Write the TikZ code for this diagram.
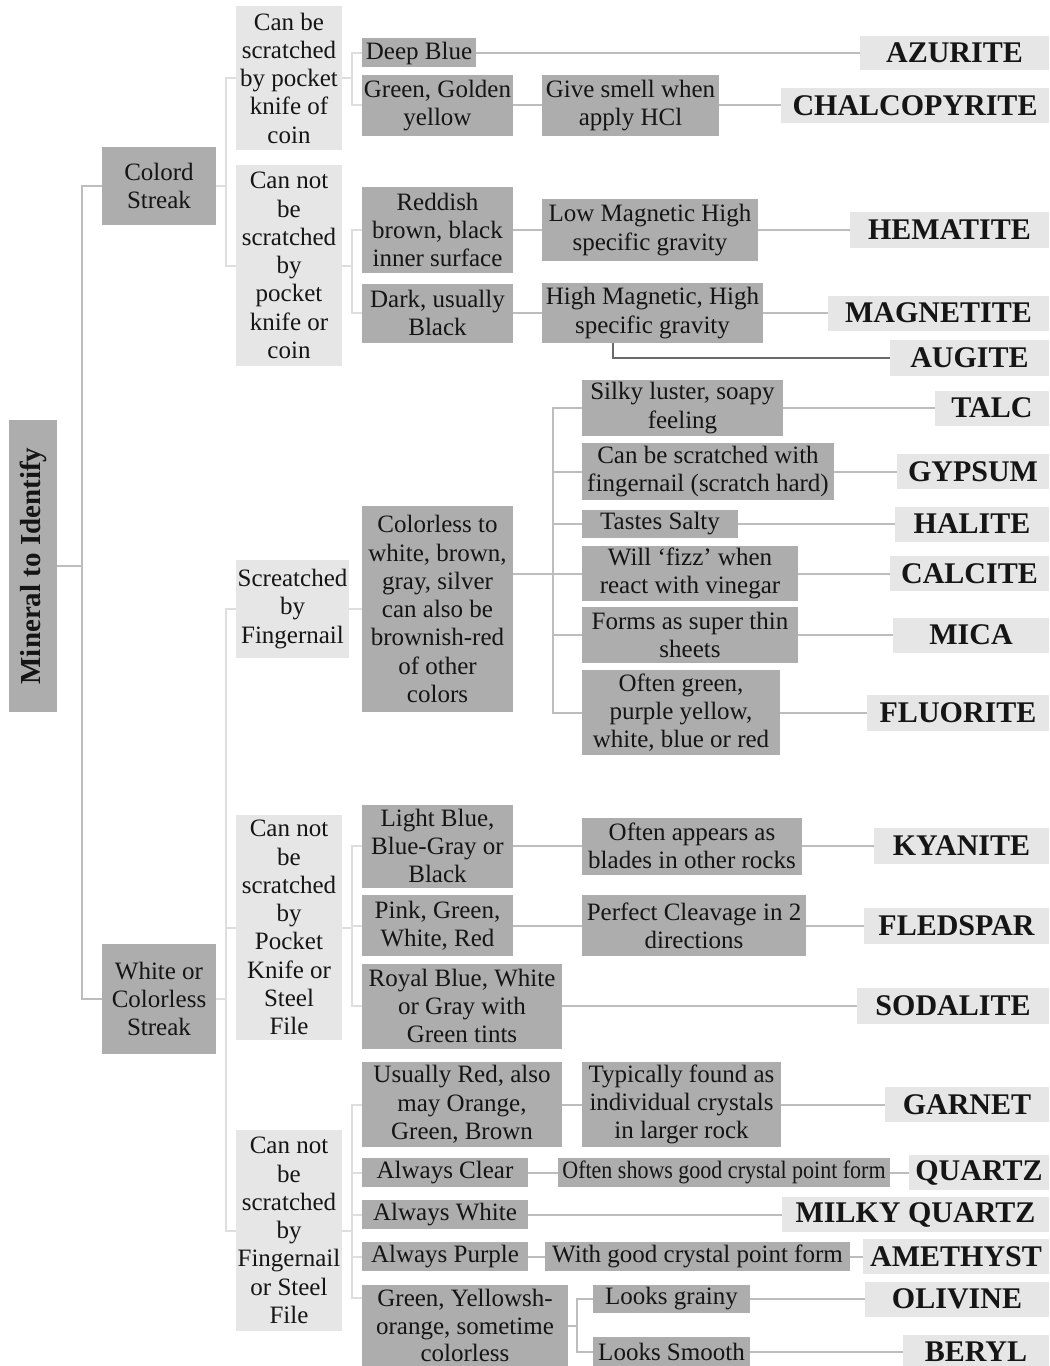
\documentclass[tikz,border=0pt]{standalone}
\usepackage{fontspec}
\usepackage{graphicx}
\setmainfont{Liberation Serif}
\usetikzlibrary{calc}
\definecolor{dk}{HTML}{ADADAD}
\definecolor{lt}{HTML}{E6E6E6}
\definecolor{gl}{HTML}{BDBDBD}
\definecolor{ll}{HTML}{DEDEDE}
\definecolor{al}{HTML}{6A6A6A}
\definecolor{tx}{HTML}{151515}
\begin{document}
\begin{tikzpicture}[x=0.75pt,y=-0.75pt,
  sz/.style 2 args={minimum width={#1*0.75pt},minimum height={#2*0.75pt}},
  base/.style={inner sep=0pt, outer sep=0pt, align=center, text=tx, font=\fontsize{18.75}{21.2}\selectfont},
  dkbox/.style={base, fill=dk},
  ltbox/.style={base, fill=lt},
  namebox/.style={base, fill=lt, font=\fontsize{22.5}{24}\selectfont\bfseries},
  gline/.style={draw=gl, line width=1.5pt},
  lline/.style={draw=ll, line width=1.5pt},
  augl/.style={draw=al, line width=1.5pt},
]
\useasboundingbox (0,0) rectangle (1049,1366);
\clip (0,0) rectangle (1049,1366);

% root and first level
\node[dkbox, sz={292}{48}, rotate=90, font=\fontsize{21.75}{24}\selectfont\bfseries] (root) at (33,566) {Mineral to Identify};
\node[dkbox, sz={114}{78}] (colord) at (159,186) {Colord\\Streak};
\node[dkbox, sz={114}{110}] (white) at (159,999) {White or\\Colorless\\Streak};

% Colord branch
\node[ltbox, sz={106}{144}] (canbe) at (289,78) {Can be\\scratched\\by pocket\\knife of\\coin};
\node[ltbox, sz={106}{201}] (cannot) at (289,265.5) {Can not\\be\\scratched\\by\\pocket\\knife or\\coin};
\node[dkbox, sz={114}{29}] (deepblue) at (419,53) {Deep Blue};
\node[dkbox, sz={151}{61}] (ggy) at (437.5,105.5) {Green, Golden\\yellow};
\node[dkbox, sz={177}{61}] (smell) at (630.5,105.5) {Give smell when\\apply HCl};
\node[namebox, sz={189}{34}] (azurite) at (954.5,53) {AZURITE};
\node[namebox, sz={268}{35}] (chalco) at (915,105.5) {CHALCOPYRITE};
\node[dkbox, sz={151}{86}] (reddish) at (437.5,230) {Reddish\\brown, black\\inner surface};
\node[dkbox, sz={151}{59}] (dark) at (437.5,313) {Dark, usually\\Black};
\node[dkbox, sz={216}{62}] (lowmag) at (650,230) {Low Magnetic High\\specific gravity};
\node[dkbox, sz={221}{60}] (himag) at (652.5,313) {High Magnetic, High\\specific gravity};
\node[namebox, sz={199}{36}] (hematite) at (949.5,230) {HEMATITE};
\node[namebox, sz={221}{35}] (magnetite) at (938.5,313) {MAGNETITE};
\node[namebox, sz={159}{36}] (augite) at (969.5,358) {AUGITE};

% Screatched branch
\node[ltbox, sz={113}{98}] (scr) at (292.5,609) {Screatched\\by\\Fingernail};
\node[dkbox, sz={151}{206}] (colorless) at (437.5,609) {Colorless to\\white, brown,\\gray, silver\\can also be\\brownish-red\\of other\\colors};
\node[dkbox, sz={201}{56}] (silky) at (682.5,408) {Silky luster, soapy\\feeling};
\node[dkbox, sz={252}{57}] (canfn) at (708,471.5) {Can be scratched with\\fingernail (scratch hard)};
\node[dkbox, sz={156}{28}] (salty) at (660,524) {Tastes Salty};
\node[dkbox, sz={216}{55}] (fizz) at (690,573.5) {Will ‘fizz’ when\\react with vinegar};
\node[dkbox, sz={216}{56}] (sheets) at (690,635) {Forms as super thin\\sheets};
\node[dkbox, sz={198}{85}] (oftengreen) at (681,712.5) {Often green,\\purple yellow,\\white, blue or red};
\node[namebox, sz={114}{35}] (talc) at (992,408) {TALC};
\node[namebox, sz={152}{35}] (gypsum) at (973,471.5) {GYPSUM};
\node[namebox, sz={154}{35}] (halite) at (972,524) {HALITE};
\node[namebox, sz={159}{35}] (calcite) at (969.5,573.5) {CALCITE};
\node[namebox, sz={156}{35}] (mica) at (971,635) {MICA};
\node[namebox, sz={182}{36}] (fluorite) at (958,712.5) {FLUORITE};

% Pocket knife branch
\node[ltbox, sz={106}{225}] (pk) at (289,927.5) {Can not\\be\\scratched\\by\\Pocket\\Knife or\\Steel\\File};
\node[dkbox, sz={151}{83}] (lightblue) at (437.5,846) {Light Blue,\\Blue-Gray or\\Black};
\node[dkbox, sz={220}{57}] (blades) at (692,846) {Often appears as\\blades in other rocks};
\node[namebox, sz={175}{36}] (kyanite) at (961.5,846) {KYANITE};
\node[dkbox, sz={151}{61}] (pink) at (437.5,925.5) {Pink, Green,\\White, Red};
\node[dkbox, sz={224}{61}] (cleavage) at (694,925.5) {Perfect Cleavage in 2\\directions};
\node[namebox, sz={185}{36}] (fledspar) at (956.5,925.5) {FLEDSPAR};
\node[dkbox, sz={200}{85}] (royal) at (462,1006) {Royal Blue, White\\or Gray with\\Green tints};
\node[namebox, sz={192}{36}] (sodalite) at (953,1006) {SODALITE};

% Fingernail / steel file branch
\node[ltbox, sz={106}{201}] (fn) at (289,1230.5) {Can not\\be\\scratched\\by\\Fingernail\\or Steel\\File};
\node[dkbox, sz={200}{85}] (usred) at (462,1104.5) {Usually Red, also\\may Orange,\\Green, Brown};
\node[dkbox, sz={199}{85}] (typical) at (681.5,1104.5) {Typically found as\\individual crystals\\in larger rock};
\node[namebox, sz={164}{35}] (garnet) at (967,1104.5) {GARNET};
\node[dkbox, sz={166}{29}] (clear) at (445,1172.5) {Always Clear};
\node[dkbox, sz={332}{29}] (oftenshows) at (724,1172.5) {\scalebox{0.88}[1]{Often shows good crystal point form}};
\node[namebox, sz={140}{35}] (quartz) at (979,1172.5) {QUARTZ};
\node[dkbox, sz={166}{29}] (white2) at (445,1214.5) {Always White};
\node[namebox, sz={267}{35}] (milky) at (915.5,1214.5) {MILKY QUARTZ};
\node[dkbox, sz={166}{29}] (purple) at (445,1256.5) {Always Purple};
\node[dkbox, sz={305}{29}] (withgood) at (697.5,1256.5) {With good crystal point form};
\node[namebox, sz={186}{35}] (amethyst) at (956,1256.5) {AMETHYST};
\node[dkbox, sz={206}{82}, font=\fontsize{18.75}{20.4}\selectfont] (gy) at (465,1325.5) {Green, Yellowsh-\\orange, sometime\\colorless};
\node[dkbox, sz={157}{28}] (grainy) at (671.5,1299) {Looks grainy};
\node[dkbox, sz={157}{29}] (smooth) at (671.5,1351.5) {Looks Smooth};
\node[namebox, sz={184}{35}] (olivine) at (957,1299) {OLIVINE};
\node[namebox, sz={146}{34}] (beryl) at (976,1351.5) {BERYL};

% connectors
\draw[gline] (root.south) -- ++(25,0) |- (colord.west);
\draw[gline] (root.south) -- ++(25,0) |- (white.west);

\draw[lline] (colord.east) -- ++(10,0) |- (canbe.west);
\draw[lline] (colord.east) -- ++(10,0) |- (cannot.west);
\draw[lline] (canbe.east) -- ++(10,0) |- (deepblue.west);
\draw[lline] (canbe.east) -- ++(10,0) |- (ggy.west);
\draw[gline] (deepblue) -- (azurite);
\draw[gline] (ggy) -- (smell);
\draw[gline] (smell) -- (chalco);
\draw[lline] (cannot.east) -- ++(10,0) |- (reddish.west);
\draw[lline] (cannot.east) -- ++(10,0) |- (dark.west);
\draw[gline] (reddish) -- (lowmag);
\draw[gline] (lowmag) -- (hematite);
\draw[gline] (dark) -- (himag);
\draw[gline] (himag) -- (magnetite);
\draw[augl] ($(himag.south west)+(71,0)$) |- (augite.west);

\draw[lline] (white.east) -- ++(10,0) |- (scr.west);
\draw[lline] (white.east) -- ++(10,0) |- (pk.west);
\draw[lline] (white.east) -- ++(10,0) |- (fn.west);

\draw[lline] (scr) -- (colorless);
\foreach \c in {silky,canfn,salty,fizz,sheets,oftengreen}
  \draw[gline] (colorless.east |- fizz.west) -- ++(40,0) |- (\c.west);
\draw[gline] (silky) -- (talc);
\draw[gline] (canfn) -- (gypsum);
\draw[gline] (salty) -- (halite);
\draw[gline] (fizz) -- (calcite);
\draw[gline] (sheets) -- (mica);
\draw[gline] (oftengreen) -- (fluorite);

\foreach \c in {lightblue,pink,royal}
  \draw[lline] (pk.east) -- ++(10,0) |- (\c.west);
\draw[gline] (lightblue) -- (blades);
\draw[gline] (blades) -- (kyanite);
\draw[gline] (pink) -- (cleavage);
\draw[gline] (cleavage) -- (fledspar);
\draw[gline] (royal) -- (sodalite);

\foreach \c in {usred,clear,white2,purple}
  \draw[lline] (fn.east) -- ++(10,0) |- (\c.west);
\draw[lline] (fn.east) -- ++(10,0) |- ($(gy.north west)+(0,13)$);
\draw[gline] (usred) -- (typical);
\draw[gline] (typical) -- (garnet);
\draw[gline] (clear) -- (oftenshows);
\draw[gline] (oftenshows) -- (quartz);
\draw[gline] (white2) -- (milky);
\draw[gline] (purple) -- (withgood);
\draw[gline] (withgood) -- (amethyst);
\draw[gline] (gy.east) -- ++(9,0) |- (grainy.west);
\draw[gline] (gy.east) -- ++(9,0) |- (smooth.west);
\draw[gline] (grainy) -- (olivine);
\draw[gline] (smooth) -- (beryl);
\end{tikzpicture}
\end{document}
